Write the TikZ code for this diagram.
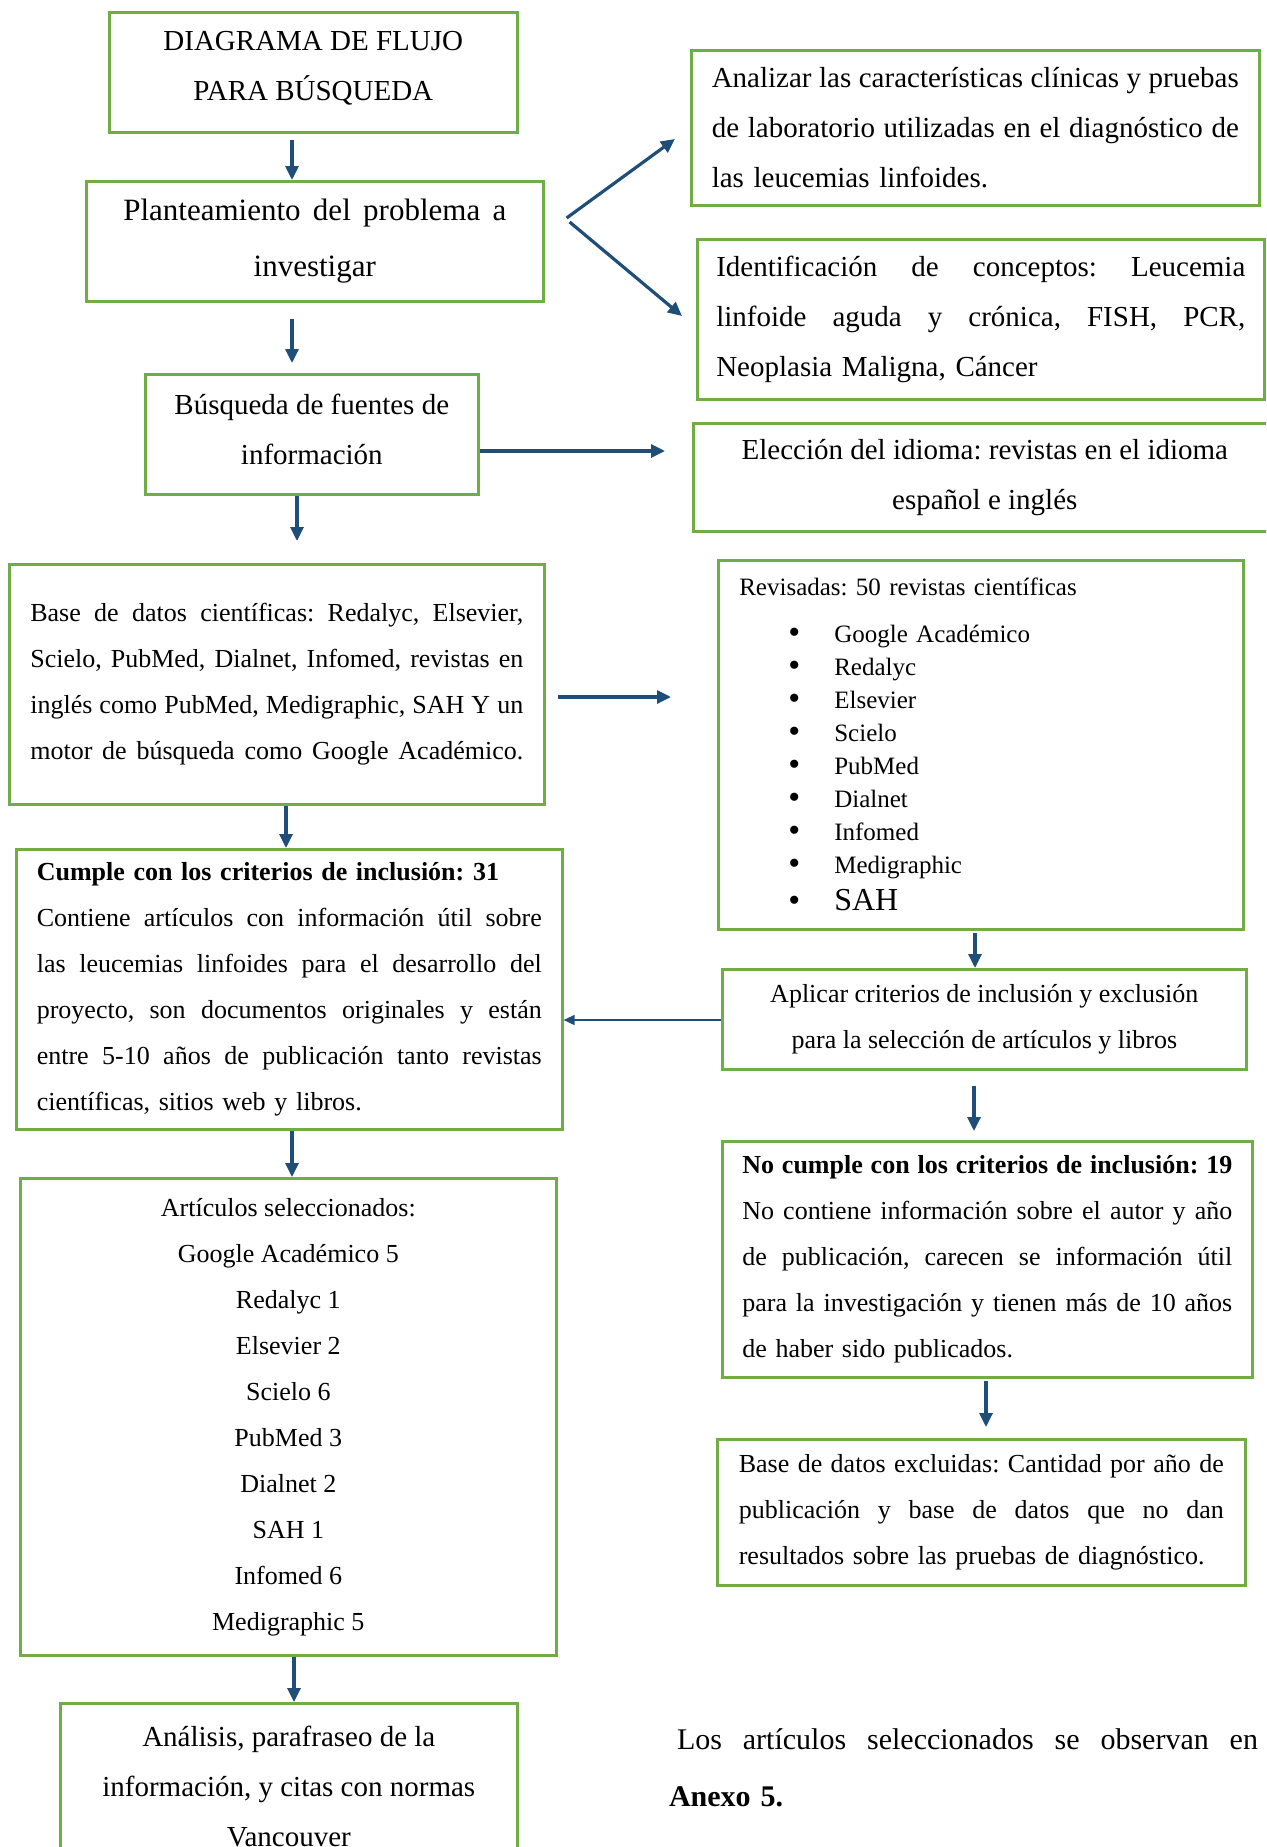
\documentclass[tikz,border=0pt]{standalone}
\usepackage{fontspec}
\setmainfont{Liberation Serif}
\usetikzlibrary{arrows.meta,calc}
\definecolor{bgreen}{RGB}{112,173,71}
\definecolor{ablue}{RGB}{31,78,121}
\newcommand\jl[2]{\makebox[#1][s]{\frenchspacing\spaceskip=0.25em plus 1fil minus 0.08em\relax #2}}
\newcommand\fsL{\fontsize{14.5pt}{25pt}\selectfont\frenchspacing}
\newcommand\fsS{\fontsize{13pt}{23pt}\selectfont\frenchspacing}
\newcommand\bul{\makebox[23pt][l]{\fontsize{17pt}{10pt}\selectfont\raisebox{-0.5pt}{•}}}
\begin{document}
\frenchspacing
\begin{tikzpicture}[x=0.5pt,y=-0.5pt,
 box/.style={draw=bgreen, line width=1.3pt, inner sep=0pt, anchor=north west},
 bsz/.style 2 args={minimum width={#1*0.5pt}, minimum height={#2*0.5pt}},
 arr/.style={draw=ablue, line width=1.6pt, -{Triangle[length=7pt,width=6.5pt]}},
 thinarr/.style={draw=ablue, line width=0.8pt, -{Triangle[length=5.5pt,width=5pt]}},
]
\useasboundingbox (0,0) rectangle (1266,1847);
\clip (0,0) rectangle (1266,1847);

\node[box,bsz={408}{120},align=center,font=\fsL,text depth=6.4pt] (b1) at (108,11) {DIAGRAMA DE FLUJO\\PARA BÚSQUEDA};
\node[box,bsz={457}{120},align=center,font=\fontsize{15.5pt}{28pt}\selectfont] (b2) at (85,180) {\jl{191.5pt}{Planteamiento del problema a}\\investigar};
\node[box,bsz={333}{120},align=center,font=\fsL,text depth=5pt] (b3) at (144,373) {Búsqueda de fuentes de\\información};

\node[box,bsz={568}{155},text width=263.5pt,align=left,font=\fsL] (bA) at (690,49)
 {\jl{263.5pt}{Analizar las características clínicas y pruebas}\\\jl{263.5pt}{de laboratorio utilizadas en el diagnóstico de}\\las leucemias linfoides.};
\node[box,bsz={567}{160},text width=264.5pt,align=left,font=\fsL] (bB) at (696,238)
 {\jl{264.5pt}{Identificación de conceptos: Leucemia}\\\jl{264.5pt}{linfoide aguda y crónica, FISH, PCR,}\\Neoplasia Maligna, Cáncer};
\node[box,bsz={583}{108},align=center,font=\fsL] (bC) at (692,422)
 {Elección del idioma: revistas en el idioma\\español e inglés};

\node[box,bsz={535}{240},text width=246.5pt,align=left,font=\fsS] (bD) at (8,563)
 {\jl{246.5pt}{Base de datos científicas: Redalyc, Elsevier,}\\\jl{246.5pt}{Scielo, PubMed, Dialnet, Infomed, revistas en}\\\jl{246.5pt}{inglés como PubMed, Medigraphic, SAH Y un}\\\jl{246.5pt}{motor de búsqueda como Google Académico.}};

\node[box,bsz={525}{369},text width=241.5pt,align=left,font=\fontsize{12.5pt}{16.5pt}\selectfont] (bE) at (717,559)
 {Revisadas: 50 revistas científicas\\[7pt]
 \hspace*{24.5pt}\bul Google Académico\\
 \hspace*{24.5pt}\bul Redalyc\\
 \hspace*{24.5pt}\bul Elsevier\\
 \hspace*{24.5pt}\bul Scielo\\
 \hspace*{24.5pt}\bul PubMed\\
 \hspace*{24.5pt}\bul Dialnet\\
 \hspace*{24.5pt}\bul Infomed\\
 \hspace*{24.5pt}\bul Medigraphic\\[2pt]
 \hspace*{24.5pt}\bul{\fontsize{16pt}{18pt}\selectfont SAH}};

\node[box,bsz={546}{280},text width=252.5pt,align=left,font=\fsS] (bF) at (15,848)
 {\textbf{Cumple con los criterios de inclusión: 31}\\
 \jl{252.5pt}{Contiene artículos con información útil sobre}\\
 \jl{252.5pt}{las leucemias linfoides para el desarrollo del}\\
 \jl{252.5pt}{proyecto, son documentos originales y están}\\
 \jl{252.5pt}{entre 5-10 años de publicación tanto revistas}\\
 científicas, sitios web y libros.};

\node[box,bsz={524}{100},align=center,font=\fsS] (bG) at (721,968)
 {Aplicar criterios de inclusión y exclusión\\para la selección de artículos y libros};

\node[box,bsz={530}{236},text width=245pt,align=left,font=\fsS] (bH) at (721,1140)
 {\jl{245pt}{\bfseries No cumple con los criterios de inclusión: 19}\\
 \jl{245pt}{No contiene información sobre el autor y año}\\
 \jl{245pt}{de publicación, carecen se información útil}\\
 \jl{245pt}{para la investigación y tienen más de 10 años}\\
 de haber sido publicados.};

\node[box,bsz={528}{146},text width=242.5pt,align=left,font=\fsS] (bK) at (716,1438)
 {\jl{242.5pt}{Base de datos excluidas: Cantidad por año de}\\
 \jl{242.5pt}{publicación y base de datos que no dan}\\
 resultados sobre las pruebas de diagnóstico.};

\node[box,bsz={536}{477},align=center,font=\fsS] (bI) at (19,1177)
 {Artículos seleccionados:\\Google Académico 5\\Redalyc 1\\Elsevier 2\\Scielo 6\\PubMed 3\\Dialnet 2\\SAH 1\\Infomed 6\\Medigraphic 5};

\node[box,bsz={457}{166},align=center,font=\fsL] (bJ) at (59,1702)
 {Análisis, parafraseo de la\\información, y citas con normas\\Vancouver};

\node[text width=294.5pt,align=left,inner sep=0pt,font=\fontsize{15pt}{28.5pt}\selectfont] (note) at (963.5,1767.5)
 {\hspace*{4pt}\jl{290.5pt}{Los artículos seleccionados se observan en}\\\textbf{Anexo 5.}};

\draw[arr] ($(b1.south west)+(184,6)$) -- ($(b2.north west)+(207,0)$);
\draw[arr] ($(b2.south west)+(207,16)$) -- ($(b3.north west)+(148,-10)$);
\draw[arr] ($(b3.south west)+(153,0)$) -- ($(bD.north west)+(289,-22)$);
\draw[arr] ($(b3.north east)+(0,78)$) -- ($(bC.north west)+(-27,29)$);
\coordinate (fork) at ($(b2.north east)+(22,38)$);
\draw[arr] (fork) -- ($(bA.north west)+(-15,90)$);
\draw[arr] ($(fork)+(3,4)$) -- ($(bB.north west)+(-14,78)$);
\draw[arr] ($(bD.north east)+(12,134)$) -- ($(bE.north west)+(-46,138)$);
\draw[arr] ($(bD.south west)+(278,0)$) -- ($(bF.north west)+(271,0)$);
\draw[arr] ($(bE.south west)+(258,2)$) -- ($(bG.north west)+(254,0)$);
\draw[thinarr] ($(bG.north west)+(0,52)$) -- ($(bF.north east)+(0,172)$);
\draw[arr] ($(bG.south west)+(253,15)$) -- ($(bH.north west)+(253,-9)$);
\draw[arr] ($(bH.south west)+(265,2)$) -- ($(bK.north west)+(270,-11)$);
\draw[arr] ($(bF.south west)+(277,0)$) -- ($(bI.north west)+(273,0)$);
\draw[arr] ($(bI.south west)+(275,0)$) -- ($(bJ.north west)+(235,0)$);
\end{tikzpicture}
\end{document}
